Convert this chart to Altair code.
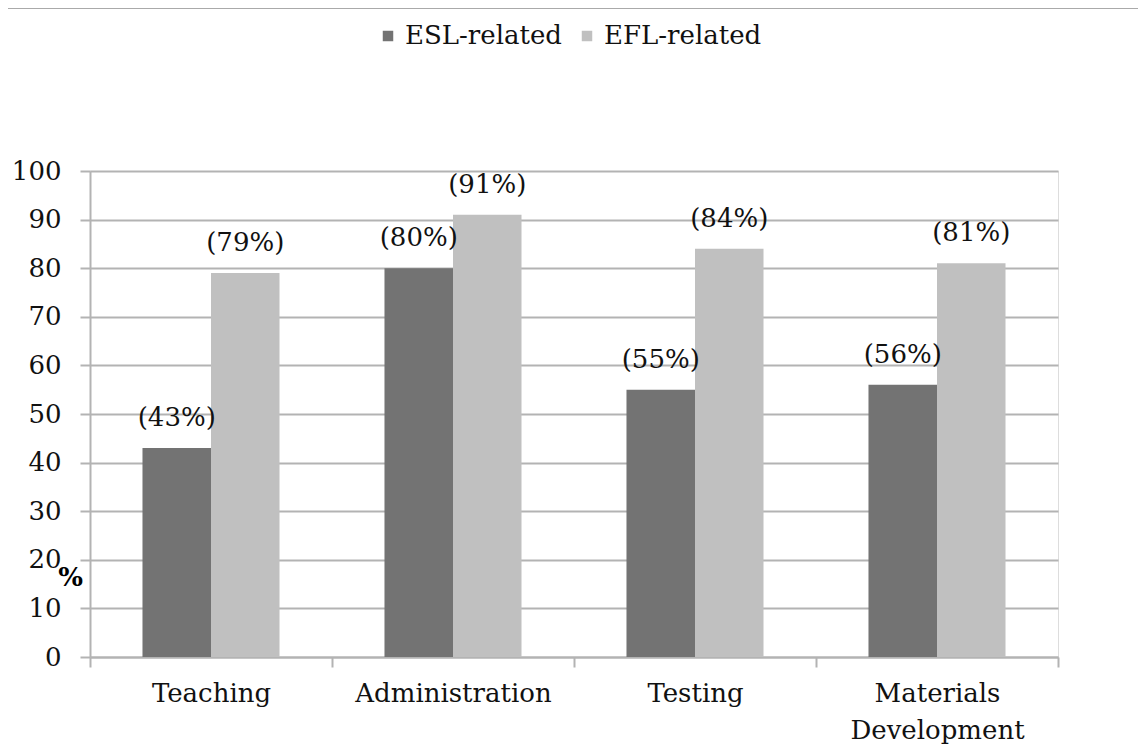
import altair as alt
import pandas as pd

categories = ["Teaching", "Administration", "Testing", "Materials Development"]
series = ["ESL-related", "EFL-related"]
esl_values = [43, 80, 55, 56]
efl_values = [79, 91, 84, 81]

rows = []
for c, v in zip(categories, esl_values):
    rows.append({"cat": c, "series": "ESL-related", "value": v, "label": f"({v}%)"})
for c, v in zip(categories, efl_values):
    rows.append({"cat": c, "series": "EFL-related", "value": v, "label": f"({v}%)"})
df = pd.DataFrame(rows)

FONT = "DejaVu Serif"
GRID = "#b3b3b3"

x_enc = alt.X(
    "cat:N",
    sort=categories,
    scale=alt.Scale(paddingInner=0, paddingOuter=0),
    axis=alt.Axis(
        title=None,
        labelAngle=0,
        labelFont=FONT,
        labelFontSize=26,
        labelColor="#111111",
        labelPadding=13,
        labelLineHeight=37,
        labelLimit=0,
        labelExpr="datum.label == 'Materials Development' ? ['Materials', 'Development'] : datum.label",
        tickBand="extent",
        tickSize=10,
        tickColor=GRID,
        tickWidth=2,
        domainColor=GRID,
        domainWidth=2,
        grid=False,
    ),
)
xoff = alt.XOffset("series:N", sort=series, scale=alt.Scale(paddingInner=0, paddingOuter=0.766))
y_enc = alt.Y(
    "value:Q",
    scale=alt.Scale(domain=[0, 100], nice=False),
    axis=alt.Axis(
        values=list(range(0, 101, 10)),
        title="%",
        titleAngle=0,
        titleFont=FONT,
        titleFontSize=26,
        titleFontWeight="bold",
        titleX=-20,
        titleY=406,
        titleAlign="center",
        titleBaseline="middle",
        labelFont=FONT,
        labelFontSize=26,
        labelColor="#111111",
        labelPadding=19,
        tickSize=10,
        tickColor=GRID,
        tickWidth=2,
        domainColor=GRID,
        domainWidth=2,
        grid=True,
        gridColor=GRID,
        gridWidth=2,
    ),
)

bars = alt.Chart(df).mark_bar().encode(
    x=x_enc,
    xOffset=xoff,
    y=y_enc,
    color=alt.Color(
        "series:N",
        sort=series,
        scale=alt.Scale(domain=series, range=["#737373", "#c0c0c0"]),
        legend=alt.Legend(
            title=None,
            orient="none",
            direction="horizontal",
            legendX=285,
            legendY=-148,
            symbolType="square",
            symbolSize=110,
            symbolStrokeWidth=0,
            labelFont=FONT,
            labelFontSize=26,
            labelColor="#111111",
            labelOffset=4,
            columnPadding=12,
        ),
    ),
)

labels = alt.Chart(df).mark_text(
    font=FONT, fontSize=26, color="#111111", dy=-30, baseline="middle"
).encode(
    x=alt.X("cat:N", sort=categories),
    xOffset=xoff,
    y=alt.Y("value:Q"),
    text="label:N",
)

topline = alt.Chart(df).mark_rule(color="#aaaaaa", strokeWidth=2, clip=False).encode(
    x=alt.value(-85), x2=alt.value(1060), y=alt.value(-163)
)

chart = (
    alt.layer(bars, labels, topline)
    .properties(
        width=968,
        height=486,
        autosize=alt.AutoSizeParams(type="none"),
        padding={"left": 82, "top": 163, "right": 80, "bottom": 88},
    )
    .configure_view(stroke=None)
    .configure(background="white")
)

chart.save("out.html", embed_options={"renderer": "svg", "actions": False})
